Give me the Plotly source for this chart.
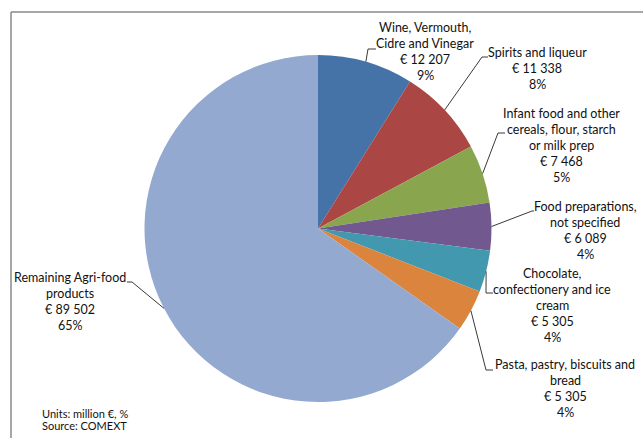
import math
import plotly.graph_objects as go

# Agri-food export categories (million €)
categories = [
    "Wine, Vermouth, Cidre and Vinegar",
    "Spirits and liqueur",
    "Infant food and other cereals, flour, starch or milk prep",
    "Food preparations, not specified",
    "Chocolate, confectionery and ice cream",
    "Pasta, pastry, biscuits and bread",
    "Remaining Agri-food products",
]
values = [12207, 11338, 7468, 6089, 5305, 5305, 89502]
pct_labels = ["9%", "8%", "5%", "4%", "4%", "4%", "65%"]
value_labels = ["€ 12 207", "€ 11 338", "€ 7 468", "€ 6 089", "€ 5 305", "€ 5 305", "€ 89 502"]
label_lines = [
    ["Wine, Vermouth,", "Cidre and Vinegar"],
    ["Spirits and liqueur"],
    ["Infant food and other", "cereals, flour, starch", "or milk prep"],
    ["Food preparations,", "not specified"],
    ["Chocolate,", "confectionery and ice", "cream"],
    ["Pasta, pastry, biscuits and", "bread"],
    ["Remaining Agri-food", "products"],
]
colors = ["#4572A7", "#AA4643", "#89A54E", "#71588F", "#4198AF", "#DB843D", "#93A9CF"]

W, H = 643, 438
CX, CY, R = 318, 228.5, 173.5  # pie centre and radius in pixels

# label block centre (x, y of first line) and leader elbow / end points, in pixels
label_pos = [(425, 27), (537, 53), (561, 113), (585, 206), (552, 273), (565, 364), (70, 277)]
elbows = [
    [(368, 49), (376, 49)],
    [(482, 57), (488, 57)],
    [(498, 133), (505, 133)],
    [(532, 211), (534, 211)],
    [(486, 293), (493, 293)],
    [(486, 370), (493, 370)],
    [(132, 282), (127, 282)],
]

LINE_H = 16
FONT = "Lato, 'Open Sans', sans-serif"


def px(x, y):
    return x / W, 1 - y / H


fig = go.Figure()
fig.add_trace(go.Pie(
    labels=categories,
    values=values,
    sort=False,
    direction="clockwise",
    rotation=0,
    textinfo="none",
    hoverinfo="label+value+percent",
    marker=dict(colors=colors, line=dict(width=0)),
    domain=dict(x=[(CX - R) / W, (CX + R) / W], y=[1 - (CY + R) / H, 1 - (CY - R) / H]),
    showlegend=False,
))

shapes = []
annotations = []
total = sum(values)
cum = 0.0
for i, v in enumerate(values):
    mid = (cum + v / 2) / total * 2 * math.pi
    cum += v
    sx = CX + R * math.sin(mid)
    sy = CY - R * math.cos(mid)
    pts = [(sx, sy)] + elbows[i]
    for (x0, y0), (x1, y1) in zip(pts[:-1], pts[1:]):
        a0 = px(x0, y0)
        a1 = px(x1, y1)
        shapes.append(dict(type="line", xref="paper", yref="paper",
                           x0=a0[0], y0=a0[1], x1=a1[0], y1=a1[1],
                           line=dict(color="#3a3a3a", width=1)))
    lines = label_lines[i] + [value_labels[i], pct_labels[i]]
    lx, ly = label_pos[i]
    for j, t in enumerate(lines):
        ax, ay = px(lx, ly + j * LINE_H)
        annotations.append(dict(x=ax, y=ay, xref="paper", yref="paper", text=t,
                                showarrow=False, xanchor="center", yanchor="middle",
                                font=dict(family=FONT, size=12.5, color="#111111")))

for j, t in enumerate(["Units: million €, %", "Source: COMEXT"]):
    ax, ay = px(40, 413 + j * 12)
    annotations.append(dict(x=ax, y=ay, xref="paper", yref="paper", text=t,
                            showarrow=False, xanchor="left", yanchor="middle",
                            font=dict(family=FONT, size=11, color="#111111")))

# chart frame (top and left edges)
for (x0, y0, x1, y1) in [(11, 12, W, 12), (11, 12, 11, H)]:
    a0 = px(x0, y0)
    a1 = px(x1, y1)
    shapes.append(dict(type="line", xref="paper", yref="paper",
                       x0=a0[0], y0=a0[1], x1=a1[0], y1=a1[1],
                       line=dict(color="#8a8a8a", width=1.5)))

fig.update_layout(
    width=W, height=H,
    margin=dict(l=0, r=0, t=0, b=0),
    paper_bgcolor="white",
    plot_bgcolor="white",
    shapes=shapes,
    annotations=annotations,
)

fig.write_html("out.html")
